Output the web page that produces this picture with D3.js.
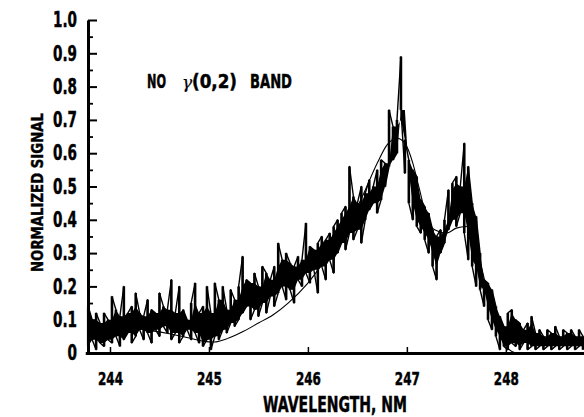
<!DOCTYPE html>
<html>
<head>
<meta charset="utf-8">
<script src="https://cdn.jsdelivr.net/npm/d3@7"></script>
<style>
  html, body { margin: 0; padding: 0; background: #fff; }
  svg { display: block; }
</style>
</head>
<body>
<svg id="chart" width="584" height="417"></svg>
<script>
// ---------- data ----------
const yTicks = [0, 0.1, 0.2, 0.3, 0.4, 0.5, 0.6, 0.7, 0.8, 0.9, 1.0];
const yTickLabels = ["0", "0.1", "0.2", "0.3", "0.4", "0.5", "0.6", "0.7", "0.8", "0.9", "1.0"];
const yMinorTicks = [0.05, 0.15, 0.25, 0.35, 0.45, 0.55, 0.65, 0.75, 0.85, 0.95];
const xTicks = [244, 245, 246, 247, 248];
const xTickLabels = ["244", "245", "246", "247", "248"];

// measured spectrum: sample wavelengths (nm) with the low / high excursion of the trace at each sample
const wavelength = [
  243.78, 243.82, 243.86, 243.90, 243.94, 243.98, 244.02, 244.06, 244.10, 244.14,
  244.18, 244.22, 244.26, 244.30, 244.34, 244.38, 244.42, 244.46, 244.50, 244.54,
  244.58, 244.62, 244.66, 244.70, 244.74, 244.78, 244.82, 244.86, 244.90, 244.94,
  244.98, 245.02, 245.06, 245.10, 245.14, 245.18, 245.22, 245.26, 245.30, 245.34,
  245.38, 245.42, 245.46, 245.50, 245.54, 245.58, 245.62, 245.66, 245.70, 245.74,
  245.78, 245.82, 245.86, 245.90, 245.94, 245.98, 246.02, 246.06, 246.10, 246.14,
  246.18, 246.22, 246.26, 246.30, 246.34, 246.38, 246.42, 246.46, 246.50, 246.54,
  246.58, 246.62, 246.66, 246.70, 246.74, 246.78, 246.82, 246.86, 246.90, 246.94,
  246.98, 247.02, 247.06, 247.10, 247.14, 247.18, 247.22, 247.26, 247.30, 247.34,
  247.38, 247.42, 247.46, 247.50, 247.54, 247.58, 247.62, 247.66, 247.70, 247.74,
  247.78, 247.82, 247.86, 247.90, 247.94, 247.98, 248.02, 248.06, 248.10, 248.14,
  248.18, 248.22, 248.26, 248.30, 248.34, 248.38, 248.42, 248.46, 248.50, 248.54,
  248.58, 248.62, 248.66, 248.70, 248.74, 248.78
];
const signalLow = [
  0.02, 0.04, 0.01, 0.03, 0.02, 0.04, 0.03, 0.05, 0.02, 0.04,
  0.06, 0.03, 0.05, 0.07, 0.04, 0.06, 0.03, 0.07, 0.05, 0.08,
  0.06, 0.04, 0.06, 0.03, 0.05, 0.07, 0.04, 0.06, 0.03, 0.02,
  0.04, 0.01, 0.05, 0.04, 0.07, 0.06, 0.09, 0.08, 0.10, 0.12,
  0.14, 0.10, 0.13, 0.11, 0.15, 0.12, 0.17, 0.14, 0.18, 0.20,
  0.16, 0.19, 0.15, 0.22, 0.20, 0.24, 0.21, 0.25, 0.18, 0.26,
  0.22, 0.28, 0.24, 0.30, 0.33, 0.31, 0.36, 0.34, 0.37, 0.33,
  0.40, 0.43, 0.45, 0.42, 0.46, 0.50, 0.56, 0.58, 0.60, 0.73,
  0.54, 0.45, 0.40, 0.38, 0.36, 0.34, 0.30, 0.26, 0.22, 0.30,
  0.33, 0.37, 0.40, 0.38, 0.42, 0.36, 0.28, 0.26, 0.20, 0.19,
  0.14, 0.10, 0.07, 0.05, 0.01, 0.02, 0.01, 0.03, 0.02, 0.01,
  0.03, 0.01, 0.02, 0.01, 0.02, 0.01, 0.02, 0.01, 0.02, 0.01,
  0.02, 0.01, 0.02, 0.01, 0.02, 0.01
];
const signalHigh = [
  0.14, 0.10, 0.12, 0.09, 0.12, 0.10, 0.17, 0.13, 0.11, 0.20,
  0.12, 0.14, 0.18, 0.12, 0.11, 0.16, 0.13, 0.12, 0.18, 0.14,
  0.13, 0.22, 0.12, 0.20, 0.13, 0.10, 0.15, 0.21, 0.12, 0.14,
  0.20, 0.12, 0.21, 0.16, 0.20, 0.13, 0.19, 0.16, 0.20, 0.29,
  0.22, 0.21, 0.24, 0.20, 0.26, 0.24, 0.22, 0.26, 0.33, 0.28,
  0.30, 0.27, 0.26, 0.29, 0.28, 0.39, 0.32, 0.31, 0.33, 0.35,
  0.34, 0.36, 0.38, 0.40, 0.42, 0.44, 0.56, 0.47, 0.45, 0.50,
  0.48, 0.52, 0.50, 0.55, 0.58, 0.57, 0.73, 0.68, 0.70, 0.89,
  0.64, 0.58, 0.55, 0.53, 0.46, 0.44, 0.42, 0.37, 0.35, 0.37,
  0.40, 0.49, 0.51, 0.53, 0.50, 0.63, 0.56, 0.45, 0.41, 0.30,
  0.22, 0.21, 0.19, 0.14, 0.11, 0.08, 0.12, 0.13, 0.10, 0.09,
  0.07, 0.09, 0.11, 0.06, 0.07, 0.05, 0.07, 0.06, 0.08, 0.05,
  0.07, 0.06, 0.07, 0.05, 0.07, 0.05
];

// smooth (fitted) band profile
const fitWavelength = [
  243.78, 244.0, 244.2, 244.4, 244.6, 244.8, 244.95, 245.05, 245.2, 245.35,
  245.5, 245.65, 245.8, 246.0, 246.2, 246.4, 246.55, 246.7, 246.8, 246.9,
  246.98, 247.06, 247.12, 247.2, 247.28, 247.4, 247.5, 247.6, 247.68, 247.76,
  247.84, 247.92, 248.0, 248.1
];
const fitSignal = [
  0.085, 0.08, 0.075, 0.068, 0.058, 0.045, 0.035, 0.033, 0.045, 0.065,
  0.09, 0.115, 0.15, 0.21, 0.29, 0.38, 0.47, 0.57, 0.625, 0.645,
  0.63, 0.57, 0.50, 0.41, 0.37, 0.36, 0.375, 0.38, 0.34, 0.25,
  0.15, 0.07, 0.02, 0.0
];

// ---------- drawing ----------
const svg = d3.select("#chart");
const FONT = "'DejaVu Sans', 'Liberation Sans', sans-serif";
// approximate printed width of a condensed label
const textW = (s, digitW, dotW) => s.split("").reduce((a, c) => a + (c === "." ? dotW : digitW), 0);

const x = d3.scaleLinear().domain([243.75, 248.79]).range([85.25, 584]);
const y = d3.scaleLinear().domain([0, 1]).range([353, 20]);

// smooth fitted profile (drawn first, partly hidden by the trace)
const fitLine = d3.line().x((d, i) => x(fitWavelength[i])).y(d => y(d)).curve(d3.curveMonotoneX);
svg.append("path")
  .datum(fitSignal)
  .attr("d", fitLine)
  .attr("fill", "none")
  .attr("stroke", "#000")
  .attr("stroke-width", 1.1);

// dense core of the noisy trace (between neighbouring excursions)
const core = d3.area()
  .x((d, i) => x(wavelength[i]))
  .y0((d, i) => y(Math.max(signalLow[i], signalLow[Math.max(0, i - 1)])))
  .y1((d, i) => y(Math.min(signalHigh[i], signalHigh[Math.max(0, i - 1)])));
svg.append("path")
  .datum(wavelength)
  .attr("d", core)
  .attr("fill", "#000");

// measured trace as a zig-zag between low and high excursions
const tracePts = [];
wavelength.forEach((w, i) => {
  if (i % 2 === 0) { tracePts.push([w, signalLow[i]]); tracePts.push([w, signalHigh[i]]); }
  else { tracePts.push([w, signalHigh[i]]); tracePts.push([w, signalLow[i]]); }
});
const line = d3.line().x(d => x(d[0])).y(d => y(d[1]));
svg.append("path")
  .datum(tracePts)
  .attr("d", line)
  .attr("fill", "none")
  .attr("stroke", "#000")
  .attr("stroke-width", 1.4)
  .attr("stroke-linejoin", "round");

// vertical strokes at each sample
svg.append("g").selectAll("line")
  .data(wavelength)
  .join("line")
  .attr("x1", d => x(d)).attr("x2", d => x(d))
  .attr("y1", (d, i) => y(signalLow[i]))
  .attr("y2", (d, i) => y(signalHigh[i]))
  .attr("stroke", "#000")
  .attr("stroke-width", 2.6);

// y axis (ticks point right, into the plot)
const yAxis = svg.append("g")
  .attr("transform", "translate(88,0)")
  .call(d3.axisLeft(y).tickValues(yTicks).tickFormat((d, i) => yTickLabels[i])
    .tickSizeInner(-9).tickSizeOuter(0).tickPadding(11));
yAxis.select(".domain").attr("stroke-width", 3);
yAxis.selectAll(".tick line").attr("stroke-width", 2);
yAxis.selectAll("text")
  .attr("font-family", FONT).attr("font-weight", "bold").attr("font-size", 21)
  .attr("textLength", (d, i) => textW(yTickLabels[i], 9.5, 5))
  .attr("lengthAdjust", "spacingAndGlyphs")
  .attr("fill", "#000").attr("stroke", "#000").attr("stroke-width", 0.5);

const yMinor = svg.append("g")
  .attr("transform", "translate(88,0)")
  .call(d3.axisLeft(y).tickValues(yMinorTicks).tickFormat("").tickSizeInner(-5).tickSizeOuter(0));
yMinor.select(".domain").remove();
yMinor.selectAll(".tick line").attr("stroke-width", 1.8);

// x axis (ticks point up)
const xAxis = svg.append("g")
  .attr("transform", "translate(0,353)")
  .call(d3.axisBottom(x).tickValues(xTicks).tickFormat((d, i) => xTickLabels[i])
    .tickSizeInner(-6).tickSizeOuter(0).tickPadding(19));
xAxis.select(".domain").attr("stroke-width", 3);
xAxis.selectAll(".tick line").attr("stroke-width", 1.5);
xAxis.selectAll("text")
  .attr("font-family", FONT).attr("font-weight", "bold").attr("font-size", 18)
  .attr("textLength", 25).attr("lengthAdjust", "spacingAndGlyphs")
  .attr("fill", "#000").attr("stroke", "#000").attr("stroke-width", 0.5);

// axis titles
svg.append("text")
  .attr("x", 263).attr("y", 412)
  .attr("textLength", 144).attr("lengthAdjust", "spacingAndGlyphs")
  .attr("font-family", FONT).attr("font-weight", "bold").attr("font-size", 21)
  .attr("stroke", "#000").attr("stroke-width", 0.5)
  .text("WAVELENGTH, NM");

svg.append("text")
  .attr("transform", "translate(43,272) rotate(-90)")
  .attr("textLength", 159).attr("lengthAdjust", "spacingAndGlyphs")
  .attr("font-family", FONT).attr("font-weight", "bold").attr("font-size", 15)
  .attr("stroke", "#000").attr("stroke-width", 0.4)
  .text("NORMALIZED SIGNAL");

// in-plot label
const lab = svg.append("text")
  .attr("y", 88)
  .attr("font-family", FONT).attr("font-weight", "bold").attr("font-size", 19)
  .attr("stroke", "#000").attr("stroke-width", 0.5);
lab.append("tspan").attr("x", 147).attr("textLength", 19).attr("lengthAdjust", "spacingAndGlyphs").text("NO");
lab.append("tspan").attr("x", 182).attr("font-family", "'DejaVu Serif', 'Liberation Serif', serif")
  .attr("font-weight", "normal").attr("font-style", "italic").attr("stroke-width", 0.2).attr("font-size", 17).text("γ");
lab.append("tspan").attr("x", 192).attr("textLength", 45).attr("lengthAdjust", "spacingAndGlyphs").text("(0,2)");
lab.append("tspan").attr("x", 250).attr("textLength", 42).attr("lengthAdjust", "spacingAndGlyphs").text("BAND");
</script>
</body>
</html>
